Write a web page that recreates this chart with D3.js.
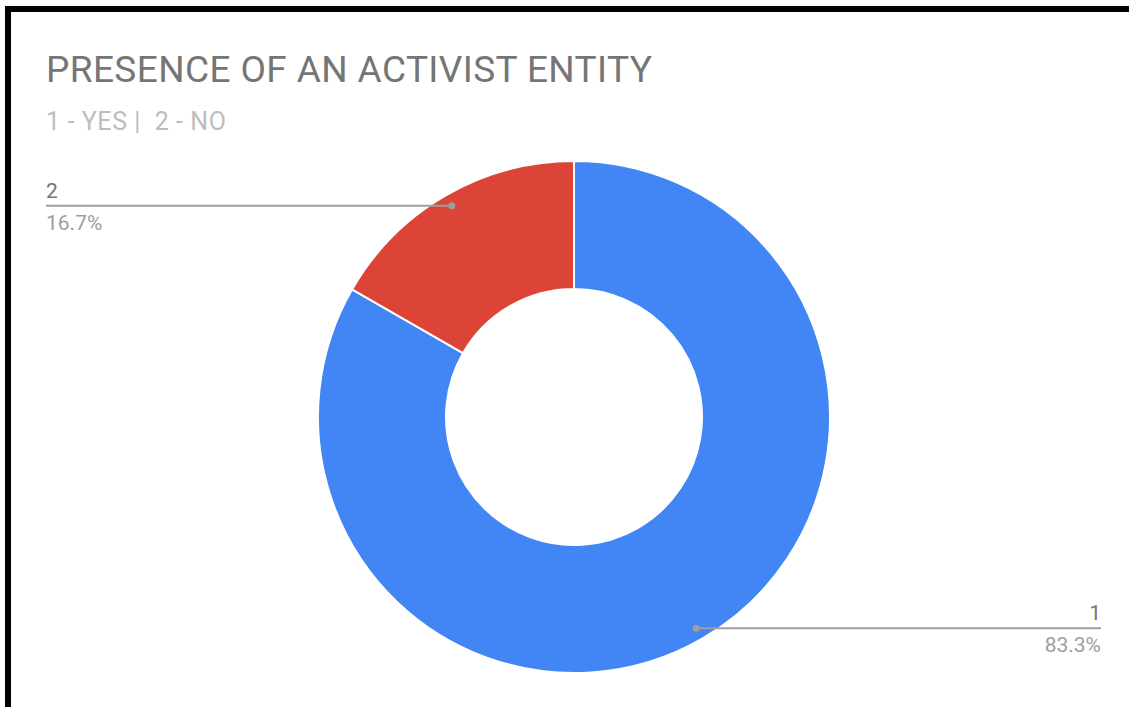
<!DOCTYPE html>
<html>
<head>
<meta charset="utf-8">
<script src="https://cdn.jsdelivr.net/npm/d3@7"></script>
<style>
  html, body { margin: 0; padding: 0; background: #fff; }
  svg { display: block; font-family: Roboto, "Noto Sans", Arial, sans-serif; }
</style>
</head>
<body>
<svg id="chart" width="1129" height="707"></svg>
<script>
// Chart data
const categories = ["1", "2"];
const values = [83.3, 16.7];
const colors = ["#4285f4", "#db4437"];
const title = "PRESENCE OF AN ACTIVIST ENTITY";
const subtitle = "1 - YES |  2 - NO";

const svg = d3.select("#chart");
const W = 1129, H = 707;

svg.append("rect").attr("width", W).attr("height", H).attr("fill", "#fff");

// Frame edges (top and left)
svg.append("rect").attr("x", 5).attr("y", 6).attr("width", W - 5).attr("height", 6).attr("fill", "#000");
svg.append("rect").attr("x", 5).attr("y", 6).attr("width", 6).attr("height", H - 6).attr("fill", "#000");

// Titles
svg.append("text")
  .attr("x", 46).attr("y", 82)
  .attr("font-size", 37)
  .attr("fill", "#757575")
  .attr("textLength", 606)
  .attr("lengthAdjust", "spacing")
  .text(title);

svg.append("text")
  .attr("x", 46).attr("y", 130)
  .attr("font-size", 25)
  .attr("fill", "#bdbdbd")
  .style("white-space", "pre")
  .attr("textLength", 180)
  .attr("lengthAdjust", "spacing")
  .text(subtitle);

// Donut
const cx = 574, cy = 417, outerR = 256, innerR = 128;
const pie = d3.pie().sort(null).value(d => d.value);
const arcs = pie(categories.map((c, i) => ({ cat: c, value: values[i], color: colors[i] })));
const arc = d3.arc().innerRadius(innerR).outerRadius(outerR);

const g = svg.append("g").attr("transform", `translate(${cx},${cy})`);
g.selectAll("path.slice")
  .data(arcs)
  .join("path")
  .attr("class", "slice")
  .attr("d", arc)
  .attr("fill", d => d.data.color)
  .attr("stroke", "#fff")
  .attr("stroke-width", 2);

// Leader lines with labels
const dotR = outerR - 12;
const leftX = 46, rightX = 1101;
const total = d3.sum(values);
arcs.forEach(d => {
  const mid = (d.startAngle + d.endAngle) / 2;
  const px = cx + Math.sin(mid) * dotR;
  const py = cy - Math.cos(mid) * dotR;
  const onLeft = Math.sin(mid) < 0;
  const endX = onLeft ? leftX : rightX;
  const anchor = onLeft ? "start" : "end";
  svg.append("line")
    .attr("x1", px).attr("y1", py)
    .attr("x2", endX).attr("y2", py)
    .attr("stroke", "#9e9e9e").attr("stroke-width", 2);
  svg.append("circle")
    .attr("cx", px).attr("cy", py).attr("r", 3.5)
    .attr("fill", "#9e9e9e");
  svg.append("text")
    .attr("x", endX).attr("y", py - 8)
    .attr("text-anchor", anchor)
    .attr("font-size", 21)
    .attr("fill", "#757575")
    .text(d.data.cat);
  svg.append("text")
    .attr("x", endX).attr("y", py + 24)
    .attr("text-anchor", anchor)
    .attr("font-size", 21)
    .attr("fill", "#9e9e9e")
    .text((d.data.value / total * 100).toFixed(1) + "%");
});
</script>
</body>
</html>
